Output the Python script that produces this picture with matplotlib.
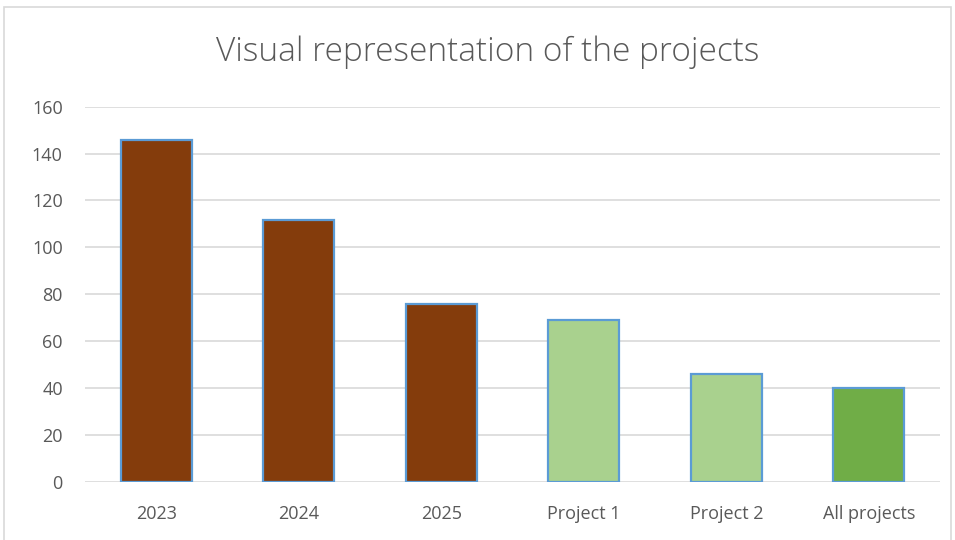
import matplotlib
matplotlib.use("Agg")
import matplotlib.pyplot as plt
from matplotlib.patches import Rectangle

categories = ["2023", "2024", "2025", "Project 1", "Project 2", "All projects"]
values = [146, 111.5, 76, 69, 46, 40]
colors = ["#843C0C", "#843C0C", "#843C0C", "#A9D18E", "#A9D18E", "#70AD47"]
yticks = [0, 20, 40, 60, 80, 100, 120, 140, 160]

plt.rcParams['font.family'] = ['Open Sans', 'DejaVu Sans']

fig = plt.figure(figsize=(9.55, 5.4), dpi=100)
fig.patches.append(Rectangle((4/955, -0.01), 947/955, 1 - 7/540 + 0.01, transform=fig.transFigure,
                             fill=False, edgecolor="#D9D9D9", linewidth=1.2))
ax = fig.add_axes([85/955, 1 - 481.7/540, 855/955, 375/540])
x = range(len(categories))
ax.bar(x, values, width=0.5, color=colors, edgecolor="#5B9BD5", linewidth=1.6, zorder=3)
ax.set_xlim(-0.5, len(categories) - 0.5)
ax.set_ylim(0, 160)
ax.set_yticks(yticks)
ax.set_xticks(list(x))
ax.set_xticklabels(categories)
ax.grid(axis="y", color="#D9D9D9", linewidth=1.2, zorder=0)
for s in ["top", "right", "left", "bottom"]:
    ax.spines[s].set_visible(False)
ax.tick_params(axis="both", length=0, labelsize=13, labelcolor="#595959")
ax.tick_params(axis="y", pad=16)
ax.tick_params(axis="x", pad=17)
fig.text(488/955, 1 - 52/540, "Visual representation of the projects", ha="center", va="center",
         fontsize=24, color="#595959", fontweight="light")
fig.savefig("out.png", dpi=100)
